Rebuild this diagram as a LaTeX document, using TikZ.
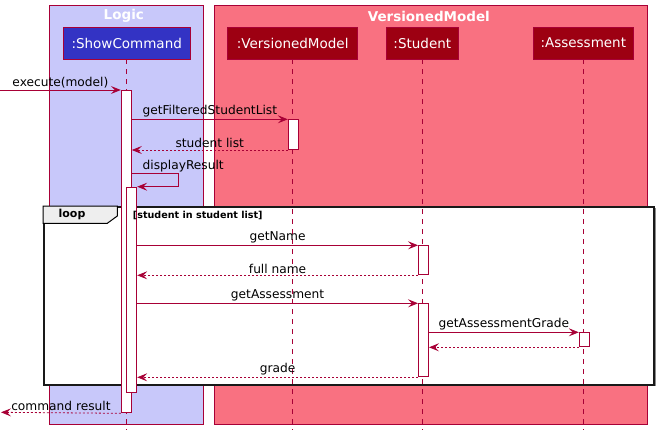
\documentclass[tikz,border=0pt]{standalone}
\usepackage{fontspec}
\setmainfont{DejaVu Sans}
\usetikzlibrary{arrows.meta}
\definecolor{logicC}{HTML}{3333C4}
\definecolor{logicT}{HTML}{C8C8FA}
\definecolor{modelC}{HTML}{9D0012}
\definecolor{modelT}{HTML}{F97181}
\definecolor{umlred}{HTML}{A80036}
\definecolor{tabgray}{HTML}{EEEEEE}
\begin{document}
\begin{tikzpicture}[x=1pt, y=-1pt,
		grp/.style={draw=umlred, line width=1pt},
		grptitle/.style={text=white, font=\fontsize{13.5}{16}\bfseries\selectfont},
		part/.style={draw=umlred, line width=0.8pt, text=white, minimum height=32pt, inner sep=0pt, font=\fontsize{13.5}{16}\selectfont},
		life/.style={draw=umlred, line width=0.8pt, dash pattern=on 5pt off 5pt},
		act/.style={draw=umlred, fill=white, line width=1pt, minimum width=10pt, inner sep=0pt, anchor=north},
		msg/.style={draw=umlred, line width=0.8pt, -{Stealth[length=10pt, width=8pt, inset=4pt]}},
		ret/.style={msg, dash pattern=on 2pt off 2pt},
		lbl/.style={text=black, anchor=south, inner sep=1.5pt, font=\fontsize{12.2}{14}\selectfont}]
	\useasboundingbox (0,0) rectangle (658,436);
	% boxes
	\filldraw[grp, fill=logicT] (49,6) rectangle (203,424);
	\filldraw[grp, fill=modelT] (214,6) rectangle (647.3,424);
	\node[grptitle] (tLogic) at (123.8,16) {Logic};
	\node[grptitle] (tModel) at (428.8,16) {VersionedModel};
	% participants
	\node[part, fill=logicC, minimum width=127pt] (sc) at (126.7,43) {:ShowCommand};
	\node[part, fill=modelC, minimum width=130pt] (vm) at (292.7,43) {:VersionedModel};
	\node[part, fill=modelC, minimum width=72pt] (st) at (422.3,43) {:Student};
	\node[part, fill=modelC, minimum width=100.6pt] (as) at (583.3,43) {:Assessment};
	% loop frame
	\fill[black!45] (45,208) rectangle (655.5,386);
	\node[draw=black!90, fill=white, line width=2pt, minimum width=610.3pt, minimum height=178pt, inner sep=0pt, anchor=north west] (loop) at (43,206) {};
	\coordinate (bot) at (0,430);
	\foreach \p in {sc,vm,st,as}
		\draw[life] (\p.south) -- (\p.south |- bot);
	\draw[fill=tabgray, line width=1pt] (43,206) -- (117.3,206) -- (117.3,216) -- (107.3,223.3) -- (43,223.3) -- cycle;
	\node[font=\fontsize{11}{13}\bfseries\selectfont] (lp) at (72,214.5) {loop};
	% activations
	\node[act, minimum height=322.3pt] (aSC1) at (126.3,90) {};
	\node[act, minimum height=29.7pt] (aVM) at (293.3,119.3) {};
	\node[act, minimum height=205pt] (aSC2) at (131.7,186.7) {};
	\node[act, minimum height=29pt] (aST1) at (423.5,245.3) {};
	\node[act, minimum height=73pt] (aST2) at (423.5,303.3) {};
	\node[act, minimum height=14pt] (aAS) at (584.3,332.3) {};
	\node[anchor=west, inner sep=0pt, font=\fontsize{9.6}{12}\bfseries\selectfont] (guard) at (132.7,215) {[student in student list]};
	% messages
	\coordinate (inL) at (0,90);
	\coordinate (outL) at (1,412.3);
	\coordinate (dr) at (178.7,173.3);
	\draw[msg] (inL) -- (aSC1.north west) node[lbl, midway] {execute(model)};
	\draw[msg] (aSC1.east |- aVM.north) -- (aVM.north west) node[lbl, midway] {getFilteredStudentList};
	\draw[ret] (aVM.south west) -- (aVM.south west -| aSC1.east) node[lbl, midway] {student list};
	\draw[msg] (dr -| aSC1.east) -- (dr) |- (aSC2.north east);
	\node[lbl, anchor=south west] (drl) at (141,173.3) {displayResult};
	\draw[msg] (aSC2.east |- aST1.north) -- (aST1.north west) node[lbl, midway] {getName};
	\draw[ret] (aST1.south west) -- (aST1.south west -| aSC2.east) node[lbl, midway] {full name};
	\draw[msg] (aSC2.east |- aST2.north) -- (aST2.north west) node[lbl, midway] {getAssessment};
	\draw[msg] (aST2.east |- aAS.north) -- (aAS.north west) node[lbl, midway] {getAssessmentGrade};
	\draw[ret] (aAS.south west) -- (aAS.south west -| aST2.east);
	\draw[ret] (aST2.south west) -- (aST2.south west -| aSC2.east) node[lbl, midway] {grade};
	\draw[ret] (aSC1.south west) -- (outL) node[lbl, midway] {command result};
\end{tikzpicture}
\end{document}
